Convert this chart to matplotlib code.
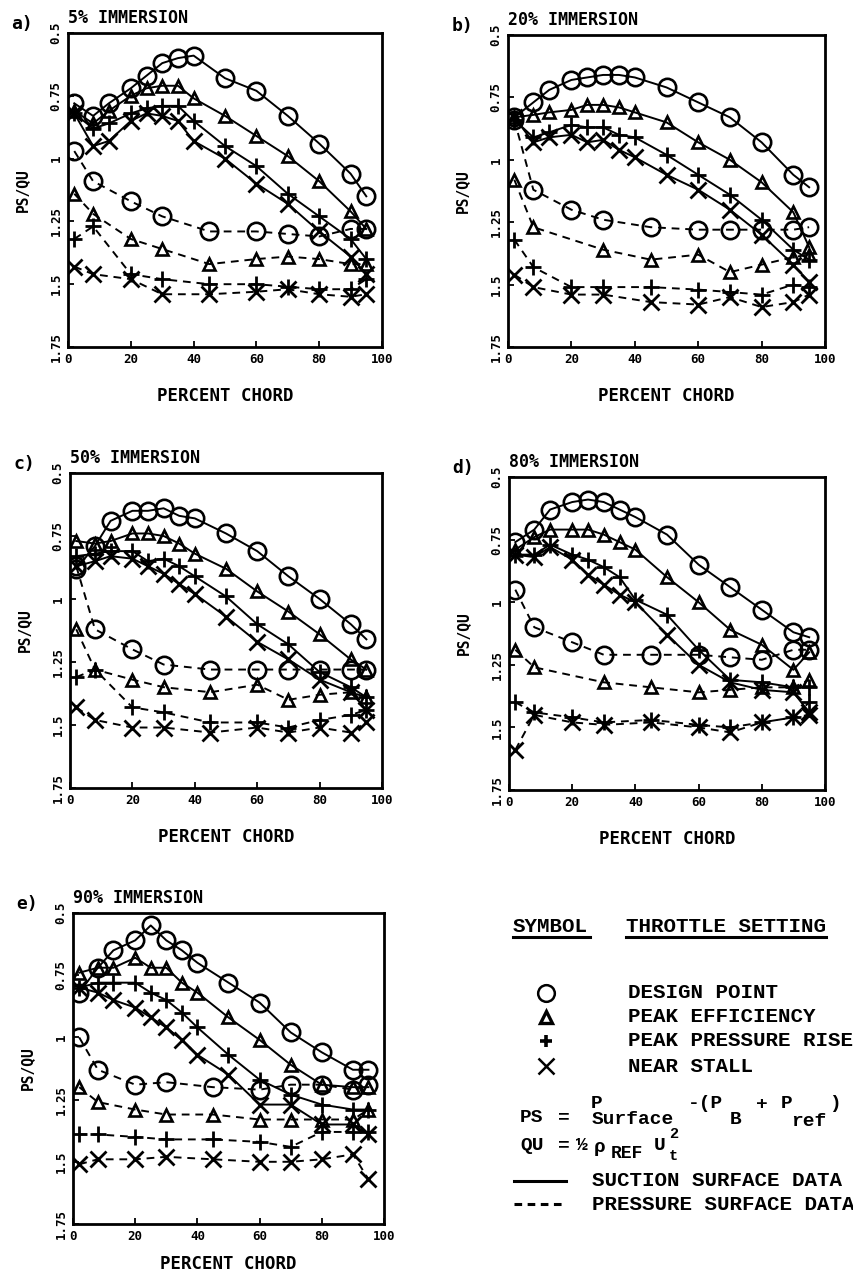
import numpy as np
import matplotlib
matplotlib.use("Agg")
import matplotlib.pyplot as plt

plt.rcParams['font.family'] = ['DejaVu Sans Mono', 'DejaVu Sans']

# chord positions (percent chord)
XS = [2, 8, 13, 20, 25, 30, 35, 40, 50, 60, 70, 80, 90, 95]   # suction surface
XP = [2, 8, 20, 30, 45, 60, 70, 80, 90, 95]                    # pressure surface

nan = np.nan
# ---- a) 5% immersion
a_des_s = [0.78, 0.83, 0.78, 0.72, 0.67, 0.62, 0.60, 0.59, 0.68, 0.73, 0.83, 0.94, 1.06, 1.15]
a_eff_s = [0.81, 0.86, 0.81, 0.75, 0.72, 0.71, 0.71, 0.76, 0.83, 0.91, 0.99, 1.09, 1.21, 1.28]
a_ppr_s = [0.82, 0.88, 0.86, 0.82, 0.80, 0.79, 0.79, 0.85, 0.95, 1.03, 1.14, 1.23, 1.32, 1.40]
a_stl_s = [0.82, 0.95, 0.93, 0.85, 0.82, 0.83, 0.85, 0.93, 1.00, 1.10, 1.18, 1.29, 1.39, 1.46]
a_des_p = [0.97, 1.09, 1.17, 1.23, 1.29, 1.29, 1.30, 1.31, 1.28, 1.28]
a_eff_p = [1.14, 1.22, 1.32, 1.36, 1.42, 1.40, 1.39, 1.40, 1.42, 1.42]
a_ppr_p = [1.32, 1.27, 1.46, 1.48, 1.50, 1.50, 1.51, 1.52, 1.52, 1.48]
a_stl_p = [1.43, 1.46, 1.48, 1.54, 1.54, 1.53, 1.52, 1.54, 1.55, 1.54]
# ---- b) 20% immersion
b_des_s = [0.83, 0.77, 0.72, 0.68, 0.67, 0.66, 0.66, 0.67, 0.71, 0.77, 0.83, 0.93, 1.06, 1.11]
b_eff_s = [0.83, 0.82, 0.81, 0.80, 0.78, 0.78, 0.79, 0.81, 0.85, 0.93, 1.00, 1.09, 1.21, 1.35]
b_ppr_s = [0.84, 0.91, 0.89, 0.86, 0.87, 0.87, 0.90, 0.91, 0.98, 1.06, 1.14, 1.24, 1.36, 1.40]
b_stl_s = [0.83, 0.93, 0.91, 0.90, 0.93, 0.92, 0.96, 0.99, 1.06, 1.12, 1.20, 1.30, 1.42, 1.49]
b_des_p = [0.84, 1.12, 1.20, 1.24, 1.27, 1.28, 1.28, 1.28, 1.28, 1.27]
b_eff_p = [1.08, 1.27, nan, 1.36, 1.40, 1.38, 1.45, 1.42, 1.39, 1.38]
b_ppr_p = [1.32, 1.43, 1.51, 1.51, 1.51, 1.52, 1.53, 1.54, 1.50, 1.51]
b_stl_p = [1.46, 1.51, 1.54, 1.54, 1.57, 1.58, 1.55, 1.59, 1.57, 1.54]
# ---- c) 50% immersion
c_des_s = [0.88, 0.79, 0.69, 0.65, 0.65, 0.64, 0.67, 0.68, 0.74, 0.81, 0.91, 1.00, 1.10, 1.16]
c_eff_s = [0.77, 0.78, 0.77, 0.74, 0.74, 0.75, 0.78, 0.82, 0.88, 0.97, 1.05, 1.14, 1.24, 1.28]
c_ppr_s = [0.83, 0.82, 0.81, 0.81, 0.85, 0.84, 0.87, 0.91, 0.99, 1.10, 1.18, 1.29, 1.35, 1.39]
c_stl_s = [0.87, 0.85, 0.83, 0.84, 0.87, 0.90, 0.94, 0.98, 1.07, 1.17, 1.24, 1.32, 1.37, 1.44]
c_des_p = [0.87, 1.12, 1.20, 1.26, 1.28, 1.28, 1.28, 1.28, 1.28, 1.28]
c_eff_p = [1.12, 1.28, 1.32, 1.35, 1.37, 1.34, 1.40, 1.38, 1.37, 1.39]
c_ppr_p = [1.31, 1.28, 1.43, 1.45, 1.49, 1.49, 1.51, 1.48, 1.46, 1.44]
c_stl_p = [1.43, 1.48, 1.51, 1.51, 1.53, 1.51, 1.53, 1.51, 1.53, 1.49]
# ---- d) 80% immersion
d_des_s = [0.76, 0.71, 0.63, 0.60, 0.59, 0.60, 0.63, 0.66, 0.73, 0.85, 0.94, 1.03, 1.12, 1.14]
d_eff_s = [0.79, 0.74, 0.71, 0.71, 0.71, 0.73, 0.76, 0.79, 0.90, 1.00, 1.11, 1.17, 1.27, 1.20]
d_ppr_s = [0.81, 0.81, 0.77, 0.81, 0.83, 0.86, 0.90, 0.99, 1.05, 1.19, 1.31, 1.32, 1.34, 1.34]
d_stl_s = [0.81, 0.82, 0.78, 0.83, 0.89, 0.93, 0.97, 1.00, 1.13, 1.25, 1.32, 1.35, 1.36, 1.44]
d_des_p = [0.95, 1.10, 1.16, 1.21, 1.21, 1.21, 1.22, 1.23, 1.19, 1.19]
d_eff_p = [1.19, 1.26, nan, 1.32, 1.34, 1.36, 1.35, 1.34, 1.34, 1.31]
d_ppr_p = [1.40, 1.44, 1.46, 1.48, 1.47, 1.49, 1.50, 1.48, 1.46, 1.40]
d_stl_p = [1.59, 1.45, 1.48, 1.49, 1.48, 1.50, 1.52, 1.48, 1.46, 1.45]
# ---- e) 90% immersion
e_des_s = [0.82, 0.72, 0.65, 0.61, 0.55, 0.61, 0.65, 0.70, 0.78, 0.86, 0.98, 1.06, 1.13, 1.13]
e_eff_s = [0.74, 0.72, 0.72, 0.68, 0.72, 0.72, 0.78, 0.82, 0.92, 1.01, 1.11, 1.19, 1.20, 1.20]
e_ppr_s = [0.80, 0.78, 0.78, 0.78, 0.82, 0.85, 0.90, 0.96, 1.07, 1.17, 1.23, 1.27, 1.29, 1.29]
e_stl_s = [0.80, 0.82, 0.85, 0.88, 0.92, 0.96, 1.01, 1.07, 1.15, 1.27, 1.27, 1.35, 1.35, 1.39]
e_des_p = [1.00, 1.13, 1.19, 1.18, 1.20, 1.21, 1.19, 1.19, 1.21, 1.19]
e_eff_p = [1.20, 1.26, 1.29, 1.31, 1.31, 1.33, 1.33, 1.33, 1.33, 1.29]
e_ppr_p = [1.39, 1.39, 1.40, 1.41, 1.41, 1.42, 1.44, 1.38, 1.38, 1.38]
e_stl_p = [1.51, 1.49, 1.49, 1.48, 1.49, 1.50, 1.50, 1.49, 1.47, 1.57]

panel_letters = ['a)', 'b)', 'c)', 'd)', 'e)']
panel_titles = ['5% IMMERSION', '20% IMMERSION', '50% IMMERSION', '80% IMMERSION', '90% IMMERSION']
x_ticks = [0, 20, 40, 60, 80, 100]
x_ticklabels = ['0', '20', '40', '60', '80', '100']
y_ticks = [0.5, 0.75, 1.0, 1.25, 1.5, 1.75]
y_ticklabels = ['0.5', '0.75', '1', '1.25', '1.5', '1.75']
settings = ['DESIGN POINT', 'PEAK EFFICIENCY', 'PEAK PRESSURE RISE', 'NEAR STALL']

panels = [
    [(a_des_s, a_des_p), (a_eff_s, a_eff_p), (a_ppr_s, a_ppr_p), (a_stl_s, a_stl_p)],
    [(b_des_s, b_des_p), (b_eff_s, b_eff_p), (b_ppr_s, b_ppr_p), (b_stl_s, b_stl_p)],
    [(c_des_s, c_des_p), (c_eff_s, c_eff_p), (c_ppr_s, c_ppr_p), (c_stl_s, c_stl_p)],
    [(d_des_s, d_des_p), (d_eff_s, d_eff_p), (d_ppr_s, d_ppr_p), (d_stl_s, d_stl_p)],
    [(e_des_s, e_des_p), (e_eff_s, e_eff_p), (e_ppr_s, e_ppr_p), (e_stl_s, e_stl_p)],
]

W, H = 854, 1281
# axes boxes in pixels: left, top, width, height
boxes = [(68, 33, 314, 314), (508, 35, 317, 312), (70, 473, 312, 315),
         (509, 477, 316, 313), (73, 913, 311, 311)]
xlabel_gap = [40, 40, 40, 40, 31]

marker_styles = [dict(marker='o', ms=12.5, mfc='none', mew=1.9),
                 dict(marker='^', ms=9, mfc='none', mew=1.9),
                 dict(marker='+', ms=12, mew=2.0),
                 dict(marker='x', ms=11, mew=2.0)]

fig = plt.figure(figsize=(W / 100, H / 100), dpi=100)
fig.patch.set_facecolor('white')

bold = dict(fontweight='bold')
for i, (l, t, w, h) in enumerate(boxes):
    ax = fig.add_axes([l / W, 1 - (t + h) / H, w / W, h / H])
    for j, (ys, yp) in enumerate(panels[i]):
        ms = marker_styles[j]
        xs = np.array(XS, float); ys = np.array(ys, float)
        m = ~np.isnan(ys)
        ax.plot(xs[m], ys[m], color='black', lw=1.4, ls='-', mec='black', **ms)
        xp = np.array(XP, float); yp = np.array(yp, float)
        m = ~np.isnan(yp)
        ax.plot(xp[m], yp[m], color='black', lw=1.4, ls=(0, (4, 3)), mec='black', **ms)
    ax.set_xlim(0, 100)
    ax.set_ylim(1.75, 0.5)
    ax.set_xticks(x_ticks)
    ax.set_xticklabels(x_ticklabels, fontsize=9, **bold)
    ax.set_yticks(y_ticks)
    ax.set_yticklabels(y_ticklabels, fontsize=9, rotation=90, va='center', **bold)
    ax.tick_params(direction='in', length=4, width=1.3, pad=4)
    for sp in ax.spines.values():
        sp.set_linewidth(2.0)
    ax.set_ylabel('PS/QU', fontsize=10.5, **bold)
    ax.yaxis.set_label_coords(-38 / w, 0.5)
    ax.set_xlabel('PERCENT CHORD', fontsize=12.5, **bold)
    ax.xaxis.set_label_coords(0.5, -xlabel_gap[i] / h)
    ax.text(0, 1 + 6 / h, panel_titles[i], transform=ax.transAxes, ha='left', va='bottom',
            fontsize=12, **bold)
    ax.text(-35 / w, 1 + 9 / h, panel_letters[i], transform=ax.transAxes, ha='right',
            va='center', fontsize=13, **bold)

# key panel drawn in pixel coordinates
lax = fig.add_axes([0, 0, 1, 1])
lax.set_xlim(0, W)
lax.set_ylim(H, 0)
lax.axis('off')
FS = 15
mono = dict(family='Liberation Mono', fontweight='bold', va='center')
lax.text(513, 927, 'SYMBOL', ha='left', fontsize=FS, **mono)
lax.text(626, 927, 'THROTTLE SETTING', ha='left', fontsize=FS, **mono)
lax.plot([513, 590], [937, 937], color='black', lw=2.2)
lax.plot([626, 826], [937, 937], color='black', lw=2.2)
row_y = [993, 1017, 1041, 1066]
key_styles = [dict(marker='o', ms=12, mfc='none', mew=1.8),
              dict(marker='^', ms=8, mfc='none', mew=2.4),
              dict(marker='+', ms=8, mew=2.6),
              dict(marker='x', ms=12, mew=1.8)]
for yv, lab, ks in zip(row_y, settings, key_styles):
    lax.plot([546], [yv], color='black', ls='none', mec='black', **ks)
    lax.text(628, yv, lab, ha='left', fontsize=FS, **mono)

# PS = P_Surface - (P_B + P_ref)   (typewritten: raised P's, lowered subscripts)
for txt, xx, yy, fs in [('PS', 520, 1118, 14), ('=', 558, 1118, 14), ('P', 591, 1103, 14),
                        ('Surface', 592, 1119, 14), ('-(P', 688, 1103, 14),
                        ('B', 730, 1120, 14), ('+', 756, 1105, 14), ('P', 781, 1104, 14),
                        ('ref', 791, 1121, 14), (')', 829, 1103, 14)]:
    lax.text(xx, yy, txt, ha='left', fontsize=fs, **mono)
# QU = 1/2 rho_REF U_t^2
for txt, xx, yy, fs in [('QU', 520, 1146, 14), ('=', 558, 1146, 14), ('½', 576, 1146, 14),
                        ('ρ', 594, 1147, 14), ('REF', 611, 1153, 13), ('U', 654, 1146, 14),
                        ('2', 669, 1134, 11), ('t', 669, 1156, 11)]:
    lax.text(xx, yy, txt, ha='left', fontsize=fs, **mono)

lax.plot([514, 566], [1181, 1181], color='black', lw=2.2)
lax.text(592, 1181, 'SUCTION SURFACE DATA', ha='left', fontsize=FS, **mono)
lax.plot([514, 566], [1204, 1204], color='black', lw=2.2, ls=(0, (2.5, 1.8)))
lax.text(592, 1204, 'PRESSURE SURFACE DATA', ha='left', fontsize=FS, **mono)

fig.savefig('out.png', dpi=100, facecolor='white')
